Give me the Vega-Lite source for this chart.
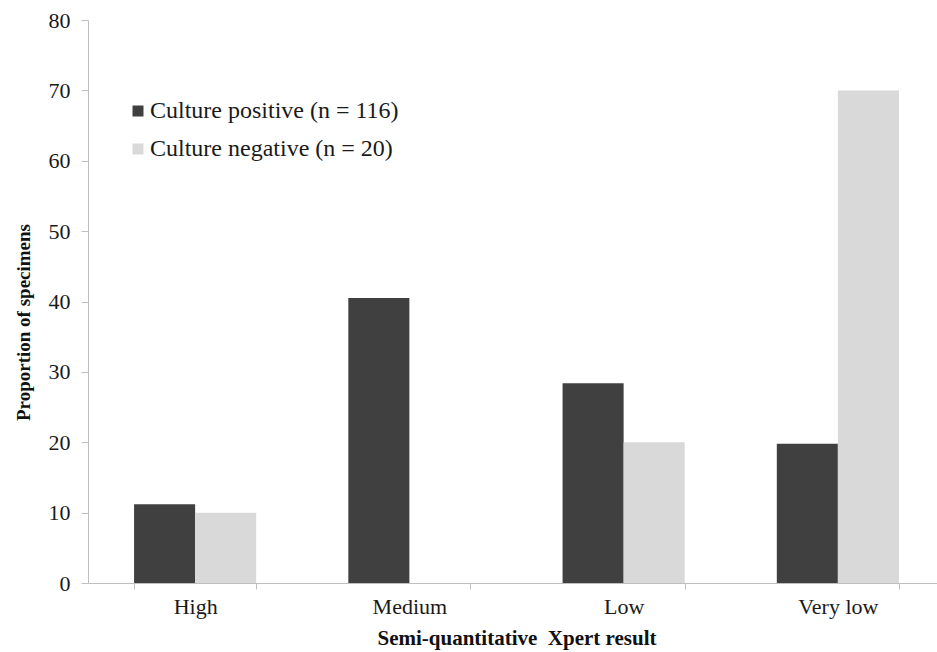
{
  "$schema": "https://vega.github.io/schema/vega-lite/v6.json",
  "autosize": "none",
  "width": 849,
  "height": 563,
  "padding": {"left": 88, "top": 20, "right": 0, "bottom": 69},
  "background": "white",
  "config": {
    "view": {"stroke": null},
    "font": "Liberation Serif",
    "axis": {
      "labelFont": "Liberation Serif",
      "titleFont": "Liberation Serif",
      "labelFontSize": 22,
      "titleFontSize": 19,
      "labelColor": "#1a1a1a",
      "titleColor": "#111",
      "domainColor": "#bfbfbf",
      "tickColor": "#bfbfbf",
      "grid": false
    }
  },
  "data": {
    "values": [
      {"result": "High", "group": "Culture positive (n = 116)", "pct": 11.2},
      {"result": "High", "group": "Culture negative (n = 20)", "pct": 10},
      {"result": "Medium", "group": "Culture positive (n = 116)", "pct": 40.5},
      {"result": "Medium", "group": "Culture negative (n = 20)", "pct": 0},
      {"result": "Low", "group": "Culture positive (n = 116)", "pct": 28.4},
      {"result": "Low", "group": "Culture negative (n = 20)", "pct": 20},
      {"result": "Very low", "group": "Culture positive (n = 116)", "pct": 19.8},
      {"result": "Very low", "group": "Culture negative (n = 20)", "pct": 70}
    ]
  },
  "mark": {"type": "bar"},
  "encoding": {
    "x": {
      "field": "result",
      "type": "nominal",
      "sort": ["High", "Medium", "Low", "Very low"],
      "scale": {"paddingInner": 0.43, "paddingOuter": 0.215, "range": [0, 857]},
      "axis": {
        "title": "Semi-quantitative\u00a0 Xpert result",
        "titleFontWeight": "bold",
        "titleFontSize": 21,
        "labelAngle": 0,
        "tickBand": "extent",
        "tickSize": 6,
        "labelPadding": 7,
        "titleY": 55,
        "titleBaseline": "middle"
      }
    },
    "xOffset": {
      "field": "group",
      "type": "nominal",
      "sort": ["Culture positive (n = 116)", "Culture negative (n = 20)"],
      "scale": {"paddingInner": 0, "paddingOuter": 0}
    },
    "y": {
      "field": "pct",
      "type": "quantitative",
      "scale": {"domain": [0, 80], "nice": false},
      "axis": {
        "title": "Proportion of specimens",
        "titleFontWeight": "bold",
        "values": [0, 10, 20, 30, 40, 50, 60, 70, 80],
        "tickSize": 7,
        "labelPadding": 11,
        "titleX": -55,
        "titleY": 302,
        "titleBaseline": "bottom"
      }
    },
    "color": {
      "field": "group",
      "type": "nominal",
      "sort": ["Culture positive (n = 116)", "Culture negative (n = 20)"],
      "scale": {"range": ["#404040", "#d9d9d9"]},
      "legend": {
        "title": null,
        "orient": "none",
        "legendX": 38,
        "legendY": 79,
        "padding": 0,
        "symbolType": "square",
        "symbolSize": 121,
        "symbolStrokeWidth": 0,
        "labelFont": "Liberation Serif",
        "labelFontSize": 24,
        "labelColor": "#1a1a1a",
        "labelOffset": 0,
        "rowPadding": 14,
        "labelLimit": 400
      }
    }
  }
}
